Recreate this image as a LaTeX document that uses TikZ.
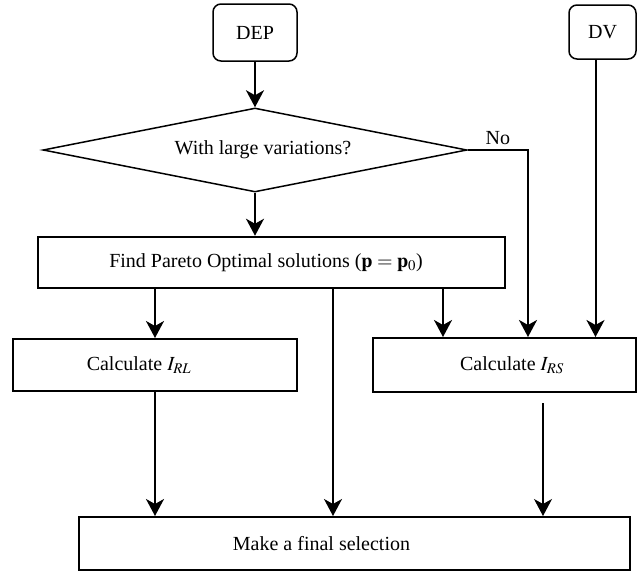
\documentclass[tikz,border=0pt]{standalone}
\usepackage{mathptmx}
\usepackage{fontspec}
\setmainfont{Liberation Serif}
\usetikzlibrary{shapes.geometric,arrows.meta}

\begin{document}
\begin{tikzpicture}[x=1pt,y=-1pt,font=\fontsize{20}{24}\selectfont,
>={Stealth[length=17pt,width=18pt,inset=5pt]},
startbox/.style={draw,line width=1.5pt,rounded corners=8pt,inner sep=0pt},
decision/.style={draw,diamond,aspect=5,line width=1.5pt,inner sep=0pt,minimum width=424pt,minimum height=84pt},
process/.style={draw,line width=2pt,inner sep=0pt},
arr/.style={->,line width=2pt}]
\useasboundingbox (0,0) rectangle (640,571);
\node[startbox,minimum width=84pt,minimum height=57pt] (dep) at (255,32.5) {DEP};
\node[startbox,minimum width=67pt,minimum height=54pt] (dv) at (602.5,32) {DV};
\node[decision] (var) at (255,150) {\hspace*{16pt}With large variations?};
\node[process,line width=2.5pt,minimum width=467pt,minimum height=51pt] (pareto) at (271.5,262.5) {Find Pareto Optimal solutions ($\mathbf{p}=\mathbf{p}_0$)\hspace*{11pt}};
\node[process,minimum width=284pt,minimum height=52pt] (irl) at (155,365) {Calculate $I_{RL}$\hspace*{32pt}};
\node[process,minimum width=263pt,minimum height=54pt] (irs) at (504.5,365) {\hspace*{15pt}Calculate $I_{RS}$};
\node[process,minimum width=551pt,minimum height=53pt] (final) at (354.5,543.5) {Make a final selection\hspace*{66pt}};
% side points
\coordinate (pmid) at ([xshift=61.5pt]pareto.south);
\coordinate (pright) at ([xshift=171.5pt]pareto.south);
\coordinate (dvout) at ([xshift=-7pt]dv.south);
\coordinate (irsout) at ([xshift=38.5pt,yshift=-10pt]irs.south);
\draw[arr] (dep.south) -- (var.north);
\draw[arr] (var.south) -- (var.south |- pareto.north);
\draw[arr,line width=2.5pt] (var.east) -| node[pos=0.25,above=1pt] {No} ([xshift=23.5pt]irs.north);
\draw[arr] (dvout) -- (dvout |- irs.north);
\draw[arr] (irl.north |- pareto.south) -- (irl.north);
\draw[arr,line width=1.6pt] (pmid) -- (pmid |- final.north);
\draw[arr] (pright) -- (pright |- irs.north);
\draw[arr] (irl.south) -- (irl.south |- final.north);
\draw[arr,line width=1.2pt] (irsout) -- (irsout |- final.north);
\end{tikzpicture}
\end{document}
